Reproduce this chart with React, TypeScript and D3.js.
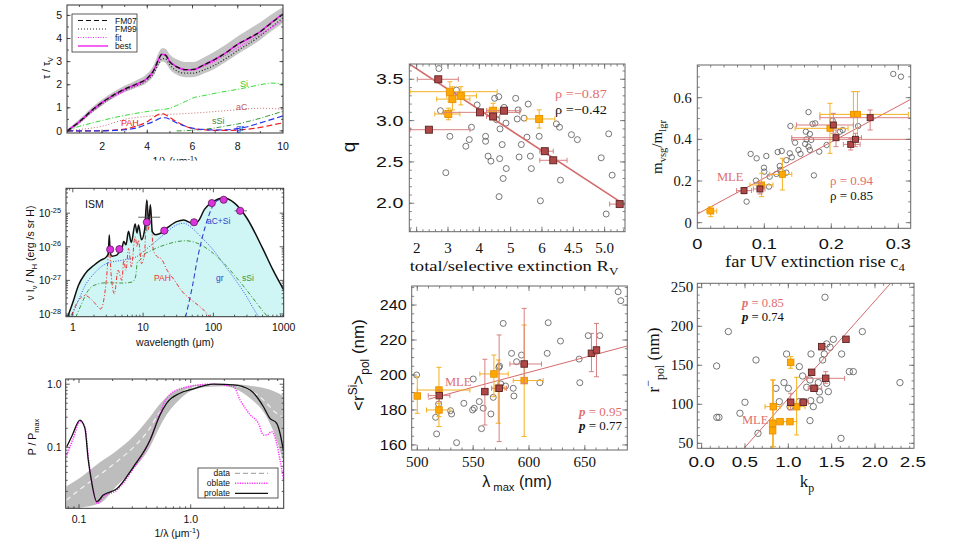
import React, { useEffect, useRef } from 'react';
import * as d3 from 'd3';

const SANS = "'Liberation Sans', Arial, Helvetica, sans-serif";
const SERIF = "'Liberation Serif', 'Times New Roman', Times, serif";

// ===== Panel A: extinction curve tau/tau_V vs 1/lambda =====
const extX = [0.45, 1, 1.5, 2, 2.5, 3, 3.5, 4, 4.3, 4.5, 4.65, 4.8, 5, 5.3, 5.7, 6, 6.5, 7, 7.5, 8, 8.5, 9, 9.5, 10];
const extBest = [0.0, 0.4, 0.85, 1.23, 1.55, 1.81, 2.02, 2.28, 2.65, 3.1, 3.32, 3.3, 3.0, 2.78, 2.65, 2.65, 2.85, 3.1, 3.4, 3.75, 4.0, 4.3, 4.7, 5.07];
const extFM07 = [0.0, 0.4, 0.85, 1.23, 1.55, 1.81, 2.02, 2.28, 2.65, 3.1, 3.32, 3.28, 2.98, 2.77, 2.65, 2.66, 2.86, 3.1, 3.4, 3.75, 4.02, 4.3, 4.68, 5.05];
const extFM99 = [0.0, 0.37, 0.8, 1.18, 1.5, 1.76, 1.95, 2.2, 2.52, 2.92, 3.13, 3.12, 2.85, 2.6, 2.5, 2.5, 2.64, 2.86, 3.15, 3.48, 3.78, 4.12, 4.5, 4.9];
const extFit = [0.0, 0.37, 0.78, 1.15, 1.46, 1.72, 1.95, 2.22, 2.6, 3.05, 3.3, 3.3, 3.02, 2.78, 2.64, 2.63, 2.8, 3.02, 3.3, 3.6, 3.88, 4.18, 4.48, 4.78];
const extBandLo = [-0.05, 0.3, 0.73, 1.1, 1.42, 1.68, 1.87, 2.1, 2.42, 2.82, 3.0, 2.95, 2.66, 2.44, 2.32, 2.32, 2.48, 2.7, 3.0, 3.33, 3.62, 3.95, 4.32, 4.68];
const extBandHi = [0.05, 0.5, 0.97, 1.36, 1.68, 1.95, 2.18, 2.48, 2.88, 3.38, 3.58, 3.56, 3.3, 3.1, 2.98, 2.98, 3.18, 3.45, 3.75, 4.1, 4.4, 4.7, 5.05, 5.35];
const extSi = [0, 0.2, 0.33, 0.45, 0.57, 0.67, 0.76, 0.84, 0.88, 0.91, 0.93, 0.94, 0.98, 1.1, 1.28, 1.42, 1.53, 1.63, 1.72, 1.8, 1.9, 2.0, 2.07, 2.02];
const extAC = [0, 0.06, 0.12, 0.2, 0.35, 0.5, 0.58, 0.63, 0.66, 0.68, 0.7, 0.71, 0.72, 0.73, 0.75, 0.77, 0.8, 0.84, 0.88, 0.92, 0.96, 0.98, 0.97, 0.93];
const extPAH = [0, 0, 0, 0.01, 0.03, 0.08, 0.2, 0.4, 0.6, 0.72, 0.75, 0.7, 0.58, 0.4, 0.2, 0.1, 0.05, 0.02, 0.02, 0.04, 0.08, 0.15, 0.25, 0.35];
const extGr = [0, 0, 0, 0, 0.02, 0.05, 0.12, 0.3, 0.42, 0.52, 0.57, 0.57, 0.5, 0.35, 0.2, 0.12, 0.06, 0.04, 0.05, 0.1, 0.2, 0.35, 0.5, 0.65];
const extSSiX = [5.3, 5.7, 6, 6.5, 7, 7.5, 8, 8.5, 9, 9.5, 10];
const extSSi = [0, 0.01, 0.03, 0.07, 0.13, 0.22, 0.3, 0.42, 0.55, 0.7, 0.85];

// ===== Panel B: SED, wavelength (um) and log10(nu I_nu / N_H) =====
const sedTotL = [0.85, 1.0, 1.2, 1.5, 2.0, 2.5, 3.0, 3.2, 3.3, 3.4, 3.6, 4.2, 4.5, 5.0, 5.3, 5.7, 6.2, 6.8, 7.7, 8.2, 8.6, 9.5, 10.5, 11.3, 12.0, 12.7, 13.5, 15, 18, 22, 30, 38, 50, 60, 75, 100, 140, 200, 300, 500, 700, 1000];
const sedTotE = [-28.07, -27.66, -27.15, -26.8, -26.55, -26.4, -26.3, -26.2, -25.65, -26.15, -26.28, -26.25, -26.18, -26.05, -25.84, -25.94, -25.54, -25.87, -25.32, -25.59, -25.35, -25.79, -25.5, -24.61, -25.3, -24.75, -25.54, -25.64, -25.59, -25.44, -25.25, -25.2, -25.3, -25.25, -24.88, -24.65, -24.55, -24.7, -25.15, -26.04, -26.68, -27.28];
const sedPahL = [0.95, 1.2, 1.5, 2.0, 2.5, 3.0, 3.3, 3.5, 3.9, 4.4, 5.0, 5.3, 5.7, 6.2, 6.8, 7.7, 8.2, 8.6, 9.5, 10.5, 11.3, 12.0, 12.7, 14, 16, 18, 22, 28, 35, 50, 70, 90];
const sedPahE = [-28.05, -27.6, -27.45, -27.65, -27.85, -27.0, -26.0, -26.8, -27.4, -26.7, -27.0, -26.4, -26.7, -26.05, -26.6, -25.7, -26.0, -25.8, -26.5, -26.2, -24.65, -25.5, -25.0, -26.1, -26.3, -26.35, -26.7, -27.0, -27.3, -27.6, -27.85, -28.1];
const sedGrL = [0.95, 1.2, 1.5, 2.0, 3.0, 5, 8, 10, 13, 17, 22, 30, 38, 50, 70, 100, 150, 200, 300, 400, 450];
const sedGrE = [-28.1, -27.6, -27.15, -26.8, -26.5, -26.4, -26.3, -26.15, -25.95, -25.75, -25.55, -25.35, -25.3, -25.45, -25.75, -26.1, -26.6, -26.95, -27.5, -27.95, -28.1];
const sedSSiL = [1.1, 1.3, 1.6, 2, 3, 5, 7, 7.8, 8.3, 9, 10, 12, 15, 20, 30, 40, 60, 100, 150, 200, 300, 500, 600];
const sedSSiE = [-28.1, -27.75, -27.35, -27.15, -27.07, -27.08, -27.05, -26.9, -26.45, -26.4, -26.25, -26.15, -26.05, -25.95, -25.85, -25.82, -25.9, -26.2, -26.55, -26.85, -27.3, -27.9, -28.1];
const sedACSiL = [40, 50, 60, 70, 85, 100, 120, 150];
const sedACSiE = [-28.1, -27.2, -26.3, -25.7, -25.1, -24.75, -24.6, -24.56];
const sedObsL = [3.4, 4.6, 11.3, 20, 53, 95, 140, 240];
const sedObsE = [-26.08, -26.07, -25.27, -25.52, -25.27, -24.7, -24.6, -24.93];
// [lambda, logI, lamLo, lamHi, logLo, logHi]
const sedErr = [
  [3.4, -26.08, 3.4, 3.4, -26.18, -25.98],
  [4.6, -26.07, 4.6, 4.6, -26.17, -25.95],
  [11.3, -25.12, 8.5, 17.5, -25.54, -24.7],
  [20, -25.52, 20, 20, -25.62, -25.42],
  [240, -24.93, 200, 300, -24.93, -24.93],
];

// ===== Panel C: polarization P/Pmax vs 1/lambda =====
const polBandX = [0.077, 0.1, 0.154, 0.22, 0.307, 0.43, 0.52, 0.61, 0.8, 1.0, 1.39, 2.0, 2.5, 3.4, 4.8, 5.5, 6.75];
const polData = [0.0145, 0.021, 0.037, 0.06, 0.1, 0.2, 0.35, 0.5, 0.72, 0.87, 0.97, 1.0, 0.95, 0.8, 0.5, 0.38, 0.3];
const polLo = [0.0105, 0.011, 0.013, 0.025, 0.045, 0.1, 0.2, 0.33, 0.58, 0.78, 0.9, 0.93, 0.85, 0.6, 0.3, 0.18, 0.06];
const polHi = [0.024, 0.032, 0.058, 0.09, 0.15, 0.3, 0.47, 0.63, 0.85, 0.95, 1.0, 1.02, 1.0, 0.95, 0.85, 0.78, 0.65];
const prolX = [0.0776, 0.086, 0.102, 0.113, 0.121, 0.129, 0.144, 0.165, 0.218, 0.307, 0.433, 0.531, 0.61, 0.8, 1.0, 1.6, 2.41, 3.4, 4.48, 5.1, 5.89, 6.3, 6.75];
const prolY = [0.102, 0.148, 0.27, 0.2, 0.063, 0.03, 0.0138, 0.0175, 0.022, 0.049, 0.131, 0.326, 0.5, 0.72, 0.82, 1.0, 0.98, 0.81, 0.44, 0.29, 0.24, 0.167, 0.09];
const oblX = [0.0776, 0.089, 0.102, 0.113, 0.121, 0.132, 0.146, 0.165, 0.218, 0.307, 0.433, 0.531, 0.61, 0.83, 1.49, 2.41, 2.77, 3.4, 4.04, 4.48, 4.8, 5.3, 5.89, 6.3, 6.75];
const oblY = [0.075, 0.14, 0.255, 0.21, 0.071, 0.024, 0.0129, 0.0164, 0.021, 0.046, 0.131, 0.35, 0.6, 0.86, 1.0, 0.92, 0.56, 0.33, 0.24, 0.157, 0.157, 0.177, 0.116, 0.063, 0.032];

// ===== Panel D: q vs R_V =====
const rvCircles = [[2.71, 3.63], [2.76, 3.12], [3.06, 2.81], [2.93, 2.37], [3.27, 3.37], [3.57, 2.69], [3.68, 2.77], [3.75, 2.92], [3.93, 3.19], [4.2, 2.81], [4.2, 2.75], [4.28, 2.57], [4.37, 2.51], [4.49, 3.27], [4.55, 3.01], [4.62, 3.29], [4.63, 2.08], [4.65, 2.54], [4.66, 2.9], [4.73, 2.71], [4.76, 2.3], [4.79, 3.16], [4.85, 2.97], [4.86, 2.42], [5.16, 3.27], [5.21, 3.02], [5.24, 3.13], [5.27, 2.56], [5.34, 2.71], [5.43, 3.03], [5.52, 2.8], [5.56, 3.2], [5.63, 2.57], [5.66, 2.42], [5.91, 2.81], [5.95, 2.03], [6.46, 2.96], [6.56, 2.92], [6.59, 2.28], [6.94, 2.83], [7.13, 2.77], [7.89, 2.55], [8.05, 1.87], [8.13, 2.84], [8.24, 2.34]];
// [x, y, xLo, xHi, yLo, yHi]
const rvRed = [[2.69, 3.5, 2.02, 3.33, 3.5, 3.5], [2.39, 2.89, 1.79, 3.7, 2.89, 2.89], [4.02, 3.1, 2.85, 5.29, 3.1, 3.1], [4.44, 3.05, 4.23, 4.65, 3.05, 3.05], [4.79, 3.12, 4.23, 5.29, 3.12, 3.12], [6.09, 2.63, 5.93, 6.36, 2.63, 2.63], [6.36, 2.52, 5.93, 6.8, 2.52, 2.52], [8.48, 1.99, 8.16, 8.69, 1.99, 1.99]];
const rvOrange = [[3.06, 3.35, 1.79, 4.57, 3.23, 3.47], [3.14, 3.26, 2.64, 3.7, 3.13, 3.41], [3.41, 3.3, 2.96, 3.91, 3.19, 3.41], [3.01, 3.08, 2.58, 3.38, 3.01, 3.15], [4.44, 3.12, 4.28, 4.63, 3.01, 3.21], [5.91, 3.02, 5.5, 6.41, 2.91, 3.13]];
const rvFit = [[1.765, 3.685], [8.65, 1.98]];
const rvXTicks = [2, 3, 4, 5, 6, 7, 8];
const rvXLabels = ['2', '3', '4', '5', '6', '4.5', '5.0'];
const rvYTicks = [2.0, 2.5, 3.0, 3.5];

// ===== Panel E: m_vsg/m_lgr vs c4 =====
const c4Circles = [[0.2925, 0.714], [0.304, 0.701], [0.166, 0.531], [0.139, 0.464], [0.172, 0.474], [0.176, 0.477], [0.162, 0.437], [0.168, 0.426], [0.163, 0.4], [0.17, 0.397], [0.161, 0.378], [0.166, 0.365], [0.168, 0.349], [0.146, 0.384], [0.151, 0.349], [0.154, 0.33], [0.138, 0.333], [0.141, 0.314], [0.133, 0.3], [0.126, 0.344], [0.12, 0.339], [0.103, 0.32], [0.0886, 0.309], [0.0796, 0.33], [0.0995, 0.264], [0.1, 0.245], [0.123, 0.272], [0.124, 0.253], [0.118, 0.234], [0.133, 0.24], [0.108, 0.221], [0.107, 0.173], [0.0876, 0.202], [0.0736, 0.101], [0.174, 0.227], [0.182, 0.341], [0.193, 0.373], [0.202, 0.49], [0.217, 0.445], [0.24, 0.464], [0.213, 0.437]];
const c4Red = [[0.0697, 0.154, 0.0587, 0.081, 0.139, 0.169], [0.0935, 0.162, 0.0836, 0.101, 0.138, 0.189], [0.203, 0.469, 0.148, 0.233, 0.429, 0.525], [0.207, 0.408, 0.141, 0.245, 0.365, 0.445], [0.229, 0.376, 0.218, 0.243, 0.349, 0.405], [0.236, 0.4, 0.141, 0.33, 0.365, 0.429], [0.258, 0.504, 0.183, 0.33, 0.445, 0.541]];
const c4Orange = [[0.02, 0.056, 0.014, 0.029, 0.029, 0.077], [0.096, 0.181, 0.0786, 0.113, 0.125, 0.237], [0.127, 0.232, 0.108, 0.141, 0.157, 0.309], [0.198, 0.453, 0.146, 0.225, 0.333, 0.573], [0.233, 0.52, 0.183, 0.315, 0.405, 0.629], [0.239, 0.52, 0.239, 0.239, 0.405, 0.629]];
const c4Fit = [[0, 0.0416], [0.3185, 0.592]];
const c4XTicks = [0, 0.1, 0.2, 0.3];
const c4YTicks = [0, 0.2, 0.4, 0.6];

// ===== Panel F: <r^Si>_pol vs lambda_max =====
const lmCircles = [[499.4, 200.0], [516.4, 175.8], [517.3, 166.3], [519.1, 183.4], [529.8, 179.6], [530.7, 177.7], [535.2, 161.3], [541.7, 183.8], [549.5, 180.0], [551.0, 181.0], [550.1, 197.7], [555.5, 184.8], [559.0, 181.0], [557.5, 169.3], [565.9, 177.7], [568.0, 187.2], [573.0, 204.4], [573.6, 205.1], [574.8, 194.9], [576.9, 229.5], [579.0, 193.7], [584.4, 212.4], [585.9, 192.4], [586.5, 188.0], [588.9, 207.6], [593.3, 211.4], [609.7, 195.6], [616.3, 212.4], [617.2, 229.9], [628.2, 219.4], [644.9, 209.1], [645.5, 195.6], [653.0, 222.5], [663.4, 222.5], [679.8, 247.6], [682.2, 242.5]];
const lmRed = [[519.7, 188.2, 509.8, 529.2, 184.8, 191.4], [560.5, 190.5, 560.5, 560.5, 171.4, 209], [573.3, 192.4, 566.5, 579.9, 161.9, 222.9], [595.7, 206.3, 582.9, 611.2, 195.2, 238.1], [655.9, 212.4, 655.9, 655.9, 201.9, 223.8], [660.4, 214.3, 660.4, 660.4, 199, 229.5]];
const lmOrange = [[500, 188, 500, 500, 178.1, 199], [519.4, 191.4, 500, 547.1, 170.5, 204.4], [519.4, 180, 508.3, 529.2, 176.2, 183.8], [568.6, 200.6, 556, 581.4, 187.6, 211.4], [572.5, 192.4, 566.5, 578.4, 172.4, 208.6], [595.7, 196.8, 585.9, 612.7, 164.8, 228.6]];
const lmFit = [[509.8, 186.1], [688, 216.6]];
const lmXTicks = [500, 550, 600, 650];
const lmYTicks = [160, 180, 200, 220, 240];

// ===== Panel G: r_pol vs k_p =====
const kpCircles = [[0.175, 83.3], [0.308, 193.2], [0.173, 149.1], [0.2, 83.3], [0.5, 102.6], [0.442, 88.5], [0.627, 156.8], [0.65, 62.8], [0.858, 120.5], [0.896, 103.4], [0.95, 127.8], [0.98, 164.5], [1.0, 120.5], [1.02, 97], [1.127, 148.3], [1.165, 136.3], [1.127, 103.4], [1.173, 103.4], [1.212, 121.8], [1.25, 131.2], [1.262, 164.5], [1.258, 104.7], [1.25, 79.1], [1.288, 97], [1.308, 120.5], [1.346, 127.8], [1.358, 115.8], [1.365, 105.6], [1.396, 156.8], [1.415, 164.5], [1.442, 177.4], [1.462, 116.2], [1.481, 173.1], [1.519, 183.3], [1.442, 126.9], [1.423, 237.2], [1.615, 164.5], [1.608, 56.4], [1.704, 141.9], [1.75, 141.9], [1.854, 193.2], [2.288, 127.8]];
const kpRed = [[1.385, 173.9, 1.385, 1.385, 173.9, 173.9], [1.665, 183.3, 1.665, 1.665, 183.3, 183.3], [1.269, 141.0, 1.269, 1.269, 137.6, 144], [1.431, 133.3, 1.21, 1.65, 126.9, 141.9], [1.296, 120.5, 1.23, 1.385, 120.5, 120.5], [1.027, 102.6, 1.027, 1.027, 92.7, 114.1], [1.173, 102.6, 1.127, 1.23, 102.6, 102.6]];
const kpOrange = [[1.027, 153.8, 1.027, 1.027, 146.2, 161.1], [0.827, 97, 0.731, 0.904, 45.7, 131.2], [0.819, 75.6, 0.819, 0.819, 70, 80], [0.819, 66.2, 0.819, 0.819, 43.6, 131.2], [0.904, 77.8, 0.788, 1.019, 77.8, 77.8], [1.019, 77.8, 0.942, 1.096, 77.8, 77.8], [1.096, 97, 1.0, 1.192, 60.7, 134.6]];
const kpFit = [[0.5, 44.9], [2.173, 254.3]];
const kpXTicks = [0, 0.5, 1.0, 1.5, 2.0, 2.5];
const kpYTicks = [50, 100, 150, 200, 250];

const RED = '#b04848';
const RED_EDGE = '#5a2222';
const RED_ERR = '#d98080';
const RED_LINE = '#d46a6a';
const RED_TXT = '#e07070';
const ORANGE = '#ffa800';
const ORANGE_ERR = '#f5b020';

function txt(g: any, x: number, y: number, content: any, o: any = {}) {
  const size = o.size ?? 10;
  const sx = o.sx ?? 1;
  let tr = `translate(${x},${y})`;
  if (o.rot) tr += ` rotate(${o.rot})`;
  if (sx !== 1) tr += ` scale(${sx},1)`;
  const t = g.append('text').attr('transform', tr)
    .attr('font-family', o.family ?? SANS).attr('font-size', size)
    .attr('text-anchor', o.anchor ?? 'start').attr('fill', o.fill ?? '#111');
  if (o.italic) t.attr('font-style', 'italic');
  if (o.weight) t.attr('font-weight', o.weight);
  if (typeof content === 'string') { t.text(content); return t; }
  let cur = 0;
  for (const s of content) {
    const target = s.sub ? size * 0.28 : s.sup ? -size * 0.42 : 0;
    const ts = t.append('tspan').attr('dy', (target - cur).toFixed(2)).text(s.t);
    if (s.sub || s.sup) ts.attr('font-size', size * (s.scale ?? 0.7));
    if (s.it) ts.attr('font-style', 'italic');
    if (s.bold) ts.attr('font-weight', 'bold');
    cur = target;
  }
  return t;
}

function clip(defs: any, id: string, x: number, y: number, w: number, h: number) {
  defs.append('clipPath').attr('id', id).append('rect').attr('x', x).attr('y', y).attr('width', w).attr('height', h);
  return `url(#${id})`;
}

function frame(g: any, x: any, y: any, o: any) {
  const [x0, x1] = x.range();
  const [yb, yt] = y.range();
  const col = o.color ?? '#333';
  let p = '';
  const inx = (v: number) => { const q = x(v); return q > x0 + 0.5 && q < x1 - 0.5; };
  const iny = (v: number) => { const q = y(v); return q < yb - 0.5 && q > yt + 0.5; };
  (o.xMin ?? []).filter(inx).forEach((v: number) => { const q = x(v); p += `M${q},${yb}v${-o.min}M${q},${yt}v${o.min}`; });
  (o.xMaj ?? []).filter(inx).forEach((v: number) => { const q = x(v); p += `M${q},${yb}v${-o.maj}M${q},${yt}v${o.maj}`; });
  (o.yMin ?? []).filter(iny).forEach((v: number) => { const q = y(v); p += `M${x0},${q}h${o.min}M${x1},${q}h${-o.min}`; });
  (o.yMaj ?? []).filter(iny).forEach((v: number) => { const q = y(v); p += `M${x0},${q}h${o.maj}M${x1},${q}h${-o.maj}`; });
  g.append('path').attr('d', p).attr('stroke', col).attr('stroke-width', o.tw ?? 0.8).attr('fill', 'none');
  g.append('rect').attr('x', x0).attr('y', yt).attr('width', x1 - x0).attr('height', yb - yt)
    .attr('fill', 'none').attr('stroke', col).attr('stroke-width', o.sw ?? 1);
}

function logMinor(lo: number, hi: number) {
  const out: number[] = [];
  for (let e = Math.floor(Math.log10(lo)); e <= Math.ceil(Math.log10(hi)); e++) {
    for (let k = 2; k <= 9; k++) { const v = k * Math.pow(10, e); if (v >= lo && v <= hi) out.push(v); }
  }
  return out;
}

const zip = (xs: number[], ys: number[]) => xs.map((v, i) => [v, ys[i]]);

function panelA(svg: any, defs: any) {
  const g = svg.append('g');
  const x = d3.scaleLinear().domain([0.45, 10]).range([67, 283]);
  const y = d3.scaleLinear().domain([-0.09, 5.45]).range([133, 5]);
  const gc = g.append('g').attr('clip-path', clip(defs, 'cA', 67, 5, 216, 128));
  const line = d3.line<any>().x(d => x(d[0])).y(d => y(d[1])).curve(d3.curveMonotoneX);
  const area = d3.area<any>().x(d => x(d[0])).y0(d => y(d[1])).y1(d => y(d[2])).curve(d3.curveMonotoneX);
  gc.append('path').attr('d', area(extX.map((v, i) => [v, extBandLo[i], extBandHi[i]]))).attr('fill', '#c4c4c4');
  const draw = (xs: number[], ys: number[], col: string, w: number, dash?: string) =>
    gc.append('path').attr('d', line(zip(xs, ys))).attr('fill', 'none').attr('stroke', col)
      .attr('stroke-width', w).attr('stroke-dasharray', dash ?? null);
  draw(extX, extAC, '#c87070', 1, '1,2');
  draw(extX, extSi, '#33dd33', 1, '5,2,1,2');
  draw(extSSiX, extSSi, '#3a9a3a', 1, '5,2,1,2');
  draw(extX, extPAH, '#ee2222', 1.2, '6,3');
  draw(extX, extGr, '#2233ee', 1.2, '6,3');
  draw(extX, extFM99, '#222', 1.2, '1,2');
  draw(extX, extFit, '#ff33ff', 1.2, '1,1.5');
  draw(extX, extBest, '#ee22ee', 1.6);
  draw(extX, extFM07, '#111', 1.3, '5,3');
  frame(g, x, y, { xMaj: [2, 4, 6, 8, 10], xMin: d3.range(1, 10, 1), yMaj: [0, 1, 2, 3, 4, 5], yMin: d3.range(0, 5.5, 0.5), maj: 3.5, min: 2, color: '#333' });
  [0, 1, 2, 3, 4, 5].forEach(v => txt(g, 62, y(v) + 3.6, String(v), { size: 10.5, anchor: 'end' }));
  [2, 4, 6, 8, 10].forEach(v => txt(g, x(v), 150, String(v), { size: 10.5, anchor: 'middle' }));
  txt(g, 175, 165, [{ t: '1/λ (μm' }, { t: '-1', sup: true }, { t: ')' }], { size: 10.5, anchor: 'middle' });
  txt(g, 50, 68, [{ t: 'τ / τ' }, { t: 'V', sub: true }], { size: 10.5, anchor: 'middle', rot: -90 });
  const lg = g.append('g');
  lg.append('rect').attr('x', 72).attr('y', 14).attr('width', 65).attr('height', 38).attr('fill', '#fff').attr('stroke', '#333').attr('stroke-width', 0.8);
  const items = [['FM07', '#111', '5,3', 1.2], ['FM99', '#222', '1,2', 1.2], ['fit', '#ff33ff', '1,1.5', 1.2], ['best', '#ee22ee', null, 1.4]];
  items.forEach((it: any, i) => {
    const yy = 20.5 + i * 8.5;
    lg.append('line').attr('x1', 78).attr('x2', 108).attr('y1', yy).attr('y2', yy).attr('stroke', it[1]).attr('stroke-width', it[3]).attr('stroke-dasharray', it[2]);
    txt(lg, 115, yy + 3, it[0], { size: 8.5 });
  });
  txt(g, 240, 87, 'Si', { size: 9, fill: '#33cc33' });
  txt(g, 236, 110, 'aC', { size: 9, fill: '#c06060' });
  txt(g, 121, 126, 'PAH', { size: 9, fill: '#ee2222' });
  txt(g, 212, 124, 'sSi', { size: 9, fill: '#3a8a3a' });
  txt(g, 236, 131, 'gr', { size: 9, fill: '#2233ee' });
  svg.append('rect').attr('x', 0).attr('y', 160.5).attr('width', 330).attr('height', 14).attr('fill', '#fff');
}

function panelB(svg: any, defs: any) {
  const g = svg.append('g');
  const x = d3.scaleLog().domain([0.8, 1000]).range([66, 283.7]);
  const y = d3.scaleLog().domain([8.3e-29, 5.5e-25]).range([316.7, 188.3]);
  const gc = g.append('g').attr('clip-path', clip(defs, 'cB', 66, 188.3, 217.7, 128.4));
  const P = (e: number) => Math.pow(10, e);
  const line = d3.line<any>().x(d => x(d[0])).y(d => y(P(d[1]))).curve(d3.curveMonotoneX);
  const area = d3.area<any>().x(d => x(d[0])).y0(316.7).y1(d => y(P(d[1]))).curve(d3.curveMonotoneX);
  const tot = zip(sedTotL, sedTotE);
  gc.append('path').attr('d', area(tot)).attr('fill', '#cff5f5');
  const draw = (xs: number[], ys: number[], col: string, w: number, dash?: string) =>
    gc.append('path').attr('d', line(zip(xs, ys))).attr('fill', 'none').attr('stroke', col)
      .attr('stroke-width', w).attr('stroke-dasharray', dash ?? null);
  draw(sedGrL, sedGrE, '#3355ee', 1, '1,1.5');
  draw(sedSSiL, sedSSiE, '#3a9a3a', 1, '4,2,1,2');
  draw(sedPahL, sedPahE, '#ee3333', 1, '4,2,1,2');
  draw(sedACSiL, sedACSiE, '#3344cc', 1.1, '5,3');
  draw(sedTotL, sedTotE, '#111', 1.5);
  const eg = g.append('g').attr('stroke', '#444').attr('stroke-width', 0.8);
  sedErr.forEach(d => {
    if (d[3] > d[2]) eg.append('line').attr('x1', x(d[2])).attr('x2', x(d[3])).attr('y1', y(P(d[1]))).attr('y2', y(P(d[1])));
    if (d[5] > d[4]) eg.append('line').attr('x1', x(d[0])).attr('x2', x(d[0])).attr('y1', y(P(d[4]))).attr('y2', y(P(d[5])));
  });
  g.selectAll(null).data(zip(sedObsL, sedObsE)).join('circle')
    .attr('cx', (d: any) => x(d[0])).attr('cy', (d: any) => y(P(d[1]))).attr('r', 3.6)
    .attr('fill', '#dd33dd').attr('stroke', '#5a1a5a').attr('stroke-width', 0.8);
  frame(g, x, y, { xMaj: [1, 10, 100, 1000], xMin: logMinor(0.8, 1000), yMaj: [1e-28, 1e-27, 1e-26, 1e-25], yMin: logMinor(8.3e-29, 5.5e-25), maj: 4, min: 2, color: '#333' });
  [-28, -27, -26, -25].forEach(e => txt(g, 61, y(P(e)) + 4, [{ t: '10' }, { t: String(e), sup: true }], { size: 10.5, anchor: 'end' }));
  [1, 10, 100, 1000].forEach(v => txt(g, x(v), 331, String(v), { size: 10.5, anchor: 'middle' }));
  txt(g, 175, 346, 'wavelength (μm)', { size: 10.5, anchor: 'middle' });
  txt(g, 34, 253, [{ t: 'ν I' }, { t: 'ν', sub: true }, { t: ' / N' }, { t: 'H', sub: true }, { t: ' (erg /s sr H)' }], { size: 10.5, anchor: 'middle', rot: -90 });
  txt(g, 85, 208, 'ISM', { size: 10.5 });
  txt(g, 207, 224, 'aC+Si', { size: 8.5, fill: '#3344cc' });
  txt(g, 154, 281, 'PAH', { size: 8.5, fill: '#ee3333' });
  txt(g, 216, 281, 'gr', { size: 8.5, fill: '#3344cc' });
  txt(g, 242, 281, 'sSi', { size: 8.5, fill: '#3a9a3a' });
}

function panelC(svg: any, defs: any) {
  const g = svg.append('g');
  const x = d3.scaleLog().domain([0.076, 6.8]).range([65.7, 283.7]);
  const y = d3.scaleLog().domain([0.0108, 1.21]).range([508.3, 379]);
  const gc = g.append('g').attr('clip-path', clip(defs, 'cC', 65.7, 379, 218, 129.3));
  const line = d3.line<any>().x(d => x(d[0])).y(d => y(d[1])).curve(d3.curveMonotoneX);
  const area = d3.area<any>().x(d => x(d[0])).y0(d => y(d[1])).y1(d => y(d[2])).curve(d3.curveMonotoneX);
  gc.append('path').attr('d', area(polBandX.map((v, i) => [v, polLo[i], polHi[i]]))).attr('fill', '#bdbdbd');
  gc.append('path').attr('d', line(zip(polBandX, polData))).attr('fill', 'none').attr('stroke', '#f2f2f2').attr('stroke-width', 1.2).attr('stroke-dasharray', '5,4');
  gc.append('path').attr('d', line(zip(oblX, oblY))).attr('fill', 'none').attr('stroke', '#ff33ff').attr('stroke-width', 1.5).attr('stroke-dasharray', '1.2,1.2');
  gc.append('path').attr('d', line(zip(prolX, prolY))).attr('fill', 'none').attr('stroke', '#111').attr('stroke-width', 1.3);
  frame(g, x, y, { xMaj: [0.1, 1], xMin: logMinor(0.076, 6.8), yMaj: [0.1, 1], yMin: logMinor(0.0108, 1.21), maj: 4, min: 2, color: '#333' });
  txt(g, 61.7, y(1) + 3.6, '1.0', { size: 10.5, anchor: 'end' });
  txt(g, 61.7, y(0.1) + 3.6, '0.1', { size: 10.5, anchor: 'end' });
  txt(g, x(0.1), 523, '0.1', { size: 10.5, anchor: 'middle' });
  txt(g, x(1), 523, '1.0', { size: 10.5, anchor: 'middle' });
  txt(g, 177, 537, [{ t: '1/λ (μm' }, { t: '-1', sup: true }, { t: ')' }], { size: 10.5, anchor: 'middle' });
  txt(g, 36, 437, [{ t: 'P / P' }, { t: 'max', sub: true }], { size: 10.5, anchor: 'middle', rot: -90 });
  const lg = g.append('g');
  lg.append('rect').attr('x', 198).attr('y', 468).attr('width', 80).attr('height', 30).attr('fill', '#fff').attr('stroke', '#333').attr('stroke-width', 0.8);
  const items = [['data', '#999', '5,3', 1], ['oblate', '#ff33ff', '1.2,1.2', 1.5], ['prolate', '#111', null, 1.2]];
  items.forEach((it: any, i) => {
    const yy = 473.3 + i * 10;
    lg.append('line').attr('x1', 235).attr('x2', 268).attr('y1', yy).attr('y2', yy).attr('stroke', it[1]).attr('stroke-width', it[3]).attr('stroke-dasharray', it[2]);
    txt(lg, 230, yy + 3, it[0], { size: 8.5, anchor: 'end' });
  });
}

function marks(g: any, x: any, y: any, circ: number[][], red: number[][], orange: number[][], fit: number[][], o: any) {
  g.append('g').selectAll('circle').data(circ).join('circle')
    .attr('cx', (d: any) => x(d[0])).attr('cy', (d: any) => y(d[1])).attr('r', o.r)
    .attr('fill', 'none').attr('stroke', '#555').attr('stroke-width', 0.8);
  g.append('line').attr('x1', x(fit[0][0])).attr('y1', y(fit[0][1])).attr('x2', x(fit[1][0])).attr('y2', y(fit[1][1]))
    .attr('stroke', RED_LINE).attr('stroke-width', o.lw);
  const sq = (data: number[][], fill: string, edge: string, ecol: string) => {
    const eg = g.append('g').attr('stroke', ecol).attr('stroke-width', 1);
    data.forEach(d => {
      const px = x(d[0]), py = y(d[1]);
      if (d[3] > d[2]) {
        eg.append('line').attr('x1', x(d[2])).attr('x2', x(d[3])).attr('y1', py).attr('y2', py);
        eg.append('line').attr('x1', x(d[2])).attr('x2', x(d[2])).attr('y1', py - 2.5).attr('y2', py + 2.5);
        eg.append('line').attr('x1', x(d[3])).attr('x2', x(d[3])).attr('y1', py - 2.5).attr('y2', py + 2.5);
      }
      if (d[5] > d[4]) {
        eg.append('line').attr('x1', px).attr('x2', px).attr('y1', y(d[4])).attr('y2', y(d[5]));
        eg.append('line').attr('x1', px - 2.5).attr('x2', px + 2.5).attr('y1', y(d[4])).attr('y2', y(d[4]));
        eg.append('line').attr('x1', px - 2.5).attr('x2', px + 2.5).attr('y1', y(d[5])).attr('y2', y(d[5]));
      }
    });
    const s = o.s;
    g.append('g').selectAll('rect').data(data).join('rect')
      .attr('x', (d: any) => x(d[0]) - s / 2).attr('y', (d: any) => y(d[1]) - s / 2).attr('width', s).attr('height', s)
      .attr('fill', fill).attr('stroke', edge).attr('stroke-width', 0.9);
  };
  sq(orange, ORANGE, '#e89000', ORANGE_ERR);
  sq(red, RED, RED_EDGE, RED_ERR);
}

function panelD(svg: any, defs: any) {
  const g = svg.append('g');
  const x = d3.scaleLinear().domain([1.765, 8.65]).range([409.3, 625]);
  const y = d3.scaleLinear().domain([1.656, 3.685]).range([231.7, 64]);
  const gc = g.append('g').attr('clip-path', clip(defs, 'cD', 409.3, 64, 215.7, 167.7));
  marks(gc, x, y, rvCircles, rvRed, rvOrange, rvFit, { r: 3, s: 7, lw: 1.6 });
  frame(g, x, y, { xMaj: rvXTicks, xMin: d3.range(1.8, 8.65, 0.2), yMaj: rvYTicks, yMin: d3.range(1.7, 3.69, 0.1), maj: 5, min: 2.5, color: '#666' });
  rvYTicks.forEach(v => txt(g, 403.3, y(v) + 5, v.toFixed(1), { size: 14, anchor: 'end', sx: 1.4 }));
  rvXTicks.forEach((v, i) => txt(g, x(v), 253, rvXLabels[i], { size: 15, anchor: 'middle', family: SERIF }));
  txt(g, 514, 271, [{ t: 'total/selective extinction R' }, { t: 'V', sub: true }], { size: 15.5, anchor: 'middle', family: SERIF, sx: 1.2 });
  txt(g, 355, 147, 'q', { size: 19, anchor: 'middle', rot: -90 });
  txt(g, 555, 97.5, 'ρ =−0.87', { size: 13, family: SERIF, fill: RED_TXT, sx: 1.1 });
  txt(g, 555, 114, 'ρ =−0.42', { size: 13, family: SERIF, fill: '#111', sx: 1.1 });
}

function panelE(svg: any, defs: any) {
  const g = svg.append('g');
  const x = d3.scaleLinear().domain([0, 0.3185]).range([697.3, 910.7]);
  const y = d3.scaleLinear().domain([-0.027, 0.757]).range([228.3, 65]);
  const gc = g.append('g').attr('clip-path', clip(defs, 'cE', 697.3, 65, 213.4, 163.3));
  marks(gc, x, y, c4Circles, c4Red, c4Orange, c4Fit, { r: 2.7, s: 6, lw: 1 });
  frame(g, x, y, { xMaj: c4XTicks, xMin: d3.range(0, 0.32, 0.02), yMaj: c4YTicks, yMin: d3.range(0, 0.76, 0.05), maj: 5, min: 2.5, color: '#666' });
  c4YTicks.forEach(v => txt(g, 691.7, y(v) + 5, v === 0 ? '0' : v.toFixed(1), { size: 14.5, anchor: 'end', family: SERIF }));
  c4XTicks.forEach(v => txt(g, x(v), 249, v === 0 ? '0' : v.toFixed(1), { size: 14, anchor: 'middle', sx: 1.3 }));
  txt(g, 815, 267, [{ t: 'far UV extinction rise c' }, { t: '4', sub: true }], { size: 16, anchor: 'middle', family: SERIF, sx: 1.15 });
  txt(g, 662, 147, [{ t: 'm' }, { t: 'vsg', sub: true }, { t: '/m' }, { t: 'lgr', sub: true }], { size: 15, anchor: 'middle', family: SERIF, rot: -90 });
  txt(g, 717, 181, 'MLE', { size: 12.5, family: SERIF, fill: RED_TXT });
  txt(g, 830, 185, 'ρ = 0.94', { size: 13, family: SERIF, fill: RED_TXT });
  txt(g, 830, 200, 'ρ = 0.85', { size: 13, family: SERIF, fill: '#111' });
}

function panelF(svg: any, defs: any) {
  const g = svg.append('g');
  const x = d3.scaleLinear().domain([495, 688]).range([411.7, 627.3]);
  const y = d3.scaleLinear().domain([157.1, 250.9]).range([450, 286]);
  const gc = g.append('g').attr('clip-path', clip(defs, 'cF', 411.7, 286, 215.6, 164));
  marks(gc, x, y, lmCircles, lmRed, lmOrange, lmFit, { r: 3, s: 6.5, lw: 1 });
  frame(g, x, y, { xMaj: lmXTicks, xMin: d3.range(500, 688, 10), yMaj: lmYTicks, yMin: d3.range(160, 251, 5), maj: 5, min: 2.5, color: '#666' });
  lmYTicks.forEach(v => txt(g, 406.7, y(v) + 5, String(v), { size: 14, anchor: 'end', sx: 1.15 }));
  lmXTicks.forEach(v => txt(g, x(v), 466.7, String(v), { size: 15, anchor: 'middle', family: SERIF }));
  txt(g, 517, 487, [{ t: 'λ' }, { t: ' max', sub: true }, { t: ' (nm)' }], { size: 16, anchor: 'middle' });
  txt(g, 364, 365, [{ t: '<r' }, { t: 'Si', sup: true }, { t: '>' }, { t: 'pol', sub: true }, { t: ' (nm)' }], { size: 17, anchor: 'middle', rot: -90 });
  txt(g, 445, 386, 'MLE', { size: 12.5, family: SERIF, fill: RED_TXT });
  txt(g, 622, 415.7, [{ t: 'p', it: true, bold: true }, { t: ' = 0.95' }], { size: 13, family: SERIF, fill: RED_TXT, anchor: 'end' });
  txt(g, 622, 430, [{ t: 'p', it: true, bold: true }, { t: ' = 0.77' }], { size: 13, family: SERIF, fill: '#111', anchor: 'end' });
}

function panelG(svg: any, defs: any) {
  const g = svg.append('g');
  const x = d3.scaleLinear().domain([-0.05, 2.45]).range([697.3, 914]);
  const y = d3.scaleLinear().domain([43.6, 255.1]).range([448.3, 283.3]);
  const gc = g.append('g').attr('clip-path', clip(defs, 'cG', 697.3, 283.3, 216.7, 165));
  marks(gc, x, y, kpCircles, kpRed, kpOrange, kpFit, { r: 3.2, s: 6.5, lw: 1 });
  frame(g, x, y, { xMaj: kpXTicks, xMin: d3.range(0, 2.45, 0.1), yMaj: kpYTicks, yMin: d3.range(50, 255, 10), maj: 5, min: 2.5, color: '#666' });
  kpYTicks.forEach(v => txt(g, 693.3, y(v) + 5, String(v), { size: 15, anchor: 'end', family: SERIF }));
  kpXTicks.forEach(v => txt(g, Math.min(x(v), 913), 466.7, v.toFixed(1), { size: 14, anchor: 'middle', sx: 1.35 }));
  txt(g, 807, 487, [{ t: 'k' }, { t: 'p', sub: true }], { size: 17, anchor: 'middle', family: SERIF });
  txt(g, 659, 360, [{ t: 'r' }, { t: '−', sup: true }, { t: 'pol', sub: true }, { t: ' (nm)' }], { size: 17, anchor: 'middle', family: SERIF, rot: -90 });
  txt(g, 742, 306.5, [{ t: 'p', it: true, bold: true }, { t: ' = 0.85' }], { size: 11.5, family: SERIF, fill: RED_TXT, sx: 1.1 });
  txt(g, 742, 320.5, [{ t: 'p', it: true, bold: true }, { t: ' = 0.74' }], { size: 11.5, family: SERIF, fill: '#111', sx: 1.1 });
  txt(g, 742, 424, 'MLE', { size: 12.5, family: SERIF, fill: RED_TXT });
}

export default function App() {
  const ref = useRef<SVGSVGElement>(null);
  useEffect(() => {
    const svg = d3.select(ref.current);
    svg.selectAll('*').remove();
    const defs = svg.append('defs');
    panelA(svg, defs);
    panelB(svg, defs);
    panelC(svg, defs);
    panelD(svg, defs);
    panelE(svg, defs);
    panelF(svg, defs);
    panelG(svg, defs);
  }, []);
  return (
    <svg ref={ref} width={960} height={540} viewBox="0 0 960 540"
      style={{ position: 'absolute', left: 0, top: 0, background: '#fff', display: 'block' }} />
  );
}
